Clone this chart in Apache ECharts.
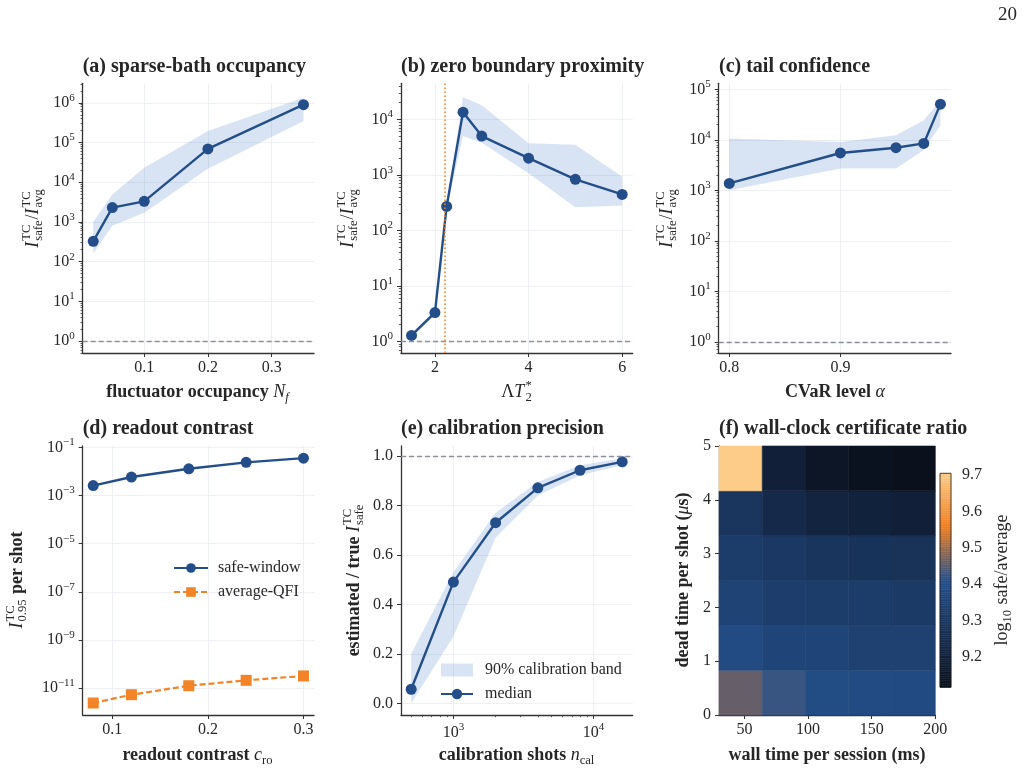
<!DOCTYPE html>
<html>
<head>
<meta charset="utf-8">
<script src="https://cdn.jsdelivr.net/npm/echarts@6.0.0/dist/echarts.min.js"></script>
<style>
  html, body { margin: 0; padding: 0; background: #fff; }
  #chart { width: 1023px; height: 772px; }
</style>
</head>
<body>
<div id="chart"></div>
<script>
// ---- data ----
// (a) sparse-bath occupancy
const occupancy = [0.02, 0.05, 0.1, 0.2, 0.35];
const occRatio = [325, 2300, 3300, 69000, 900000];
const occLow = [160, 800, 1700, 22000, 350000];
const occHigh = [1000, 4900, 23000, 196000, 1350000];
// (b) zero boundary proximity
const lambdaT2 = [1.5, 2.0, 2.25, 2.6, 3.0, 4.0, 5.0, 6.0];
const zbRatio = [1.28, 3.3, 270, 13500, 5000, 2000, 830, 445];
const zbLow = [1.2, 3.0, 240, 5000, 3800, 1070, 260, 280];
const zbHigh = [1.4, 3.6, 300, 25000, 18000, 3700, 3500, 930];
const zbBoundary = 2.2;
// (c) tail confidence
const cvarLevel = [0.8, 0.9, 0.95, 0.975, 0.99];
const tailRatio = [1370, 5500, 7000, 8500, 51000];
const tailLow = [1000, 2700, 2700, 6300, 19500];
const tailHigh = [10700, 9100, 12300, 24500, 61000];
// (d) readout contrast
const contrast = [0.08, 0.12, 0.18, 0.24, 0.3];
const safePerShot = [2.6e-3, 5.9e-3, 1.3e-2, 2.4e-2, 3.6e-2];
const avgPerShot = [2.4e-12, 5.3e-12, 1.25e-11, 2.1e-11, 3.2e-11];
// (e) calibration precision
const calShots = [500, 1000, 2000, 4000, 8000, 16000];
const calMedian = [0.057, 0.49, 0.73, 0.871, 0.942, 0.976];
const calLow = [0.0, 0.27, 0.67, 0.84, 0.922, 0.962];
const calHigh = [0.2, 0.53, 0.77, 0.895, 0.962, 0.99];
// (f) wall-clock certificate ratio, log10 safe/average; rows dead time low -> high
const wallExtent = [30, 200];
const deadExtent = [0, 5];
const heatRatio = [
  [9.458, 9.425, 9.39, 9.386, 9.385],
  [9.389, 9.357, 9.354, 9.343, 9.341],
  [9.35, 9.326, 9.32, 9.32, 9.31],
  [9.32, 9.302, 9.287, 9.276, 9.274],
  [9.292, 9.237, 9.21, 9.20, 9.19],
  [9.705, 9.19, 9.145, 9.124, 9.116]
];
// tick labels
const ticksXa = [0.1, 0.2, 0.3];
const ticksYa = [1, 10, 100, 1e3, 1e4, 1e5, 1e6];
const ticksXb = [2, 4, 6];
const ticksYb = [1, 10, 100, 1e3, 1e4];
const ticksXc = [0.8, 0.9];
const ticksYc = [1, 10, 100, 1e3, 1e4, 1e5];
const ticksXd = [0.1, 0.2, 0.3];
const ticksYd = [1e-11, 1e-9, 1e-7, 1e-5, 1e-3, 1e-1];
const ticksXe = [1e3, 1e4];
const ticksYe = [0, 0.2, 0.4, 0.6, 0.8, 1.0];
const ticksXf = [50, 100, 150, 200];
const ticksYf = [0, 1, 2, 3, 4, 5];
const ticksCbar = [9.2, 9.3, 9.4, 9.5, 9.6, 9.7];

// ---- style ----
const FONT = '"Liberation Serif", "Times New Roman", Times, serif';
const INK = '#262626';
const SPINE = '#333333';
const GRIDC = '#e8ebf0';
const BLUE = '#234e8a';
const ORANGE = '#f28326';
const BAND = 'rgba(60,120,195,0.2)';
const REF = '#8c909c';
const TICKF = 16;
const LABF = 18;

const cmapStops = [[0, [10, 16, 28]], [0.5, [36, 80, 140]], [0.75, [240, 127, 34]], [1, [253, 204, 136]]];
const allHeat = [].concat(...heatRatio);
const cMin = Math.min(...allHeat), cMax = Math.max(...allHeat);
function cmap(v) {
  let t = Math.max(0, Math.min(1, (v - cMin) / (cMax - cMin)));
  for (let i = 1; i < cmapStops.length; i++) {
    if (t <= cmapStops[i][0]) {
      const [t0, c0] = cmapStops[i - 1], [t1, c1] = cmapStops[i];
      const f = (t - t0) / (t1 - t0);
      return 'rgb(' + c0.map((c, k) => Math.round(c + f * (c1[k] - c))).join(',') + ')';
    }
  }
  return 'rgb(' + cmapStops[3][1].join(',') + ')';
}

function powLabel(v) {
  const e = Math.round(Math.log10(v));
  return '{m|10}{e|' + (e < 0 ? '\u2212' + (-e) : e) + '}';
}
const powRich = {
  m: { fontFamily: FONT, fontSize: TICKF, color: INK, lineHeight: 21 },
  e: { fontFamily: FONT, fontSize: 11, color: INK, verticalAlign: 'top', lineHeight: 12 }
};

function minorLog(lo, hi) {
  const out = [];
  for (let e = Math.floor(Math.log10(lo)); e <= Math.ceil(Math.log10(hi)); e++) {
    for (let m = 2; m <= 9; m++) {
      const v = m * Math.pow(10, e);
      if (v >= lo && v <= hi) out.push(v);
    }
  }
  return out;
}

function axis(grid, pos, type, min, max, ticks, fmt, extra) {
  const a = {
    gridIndex: grid, position: pos, type: type, min: min, max: max,
    axisLine: { show: true, onZero: false, lineStyle: { color: SPINE, width: 1.3 } },
    axisTick: { show: true, inside: false, length: 4, customValues: ticks, lineStyle: { color: SPINE, width: 1 } },
    axisLabel: { customValues: ticks, formatter: fmt, color: INK, fontFamily: FONT, fontSize: TICKF,
                 margin: pos === 'bottom' ? 7 : 8 },
    splitLine: { show: true, lineStyle: { color: GRIDC, width: 0.8 } },
    minorTick: { show: false }, minorSplitLine: { show: false }
  };
  if (type === 'log') {
    a.logBase = 10;
    a.axisLabel.formatter = powLabel;
    a.axisLabel.rich = powRich;
  }
  return Object.assign(a, extra || {});
}
function minorAxis(grid, pos, min, max) {
  return {
    gridIndex: grid, position: pos, type: 'log', logBase: 10, min: min, max: max,
    axisLine: { show: false, onZero: false }, axisLabel: { show: false }, splitLine: { show: false },
    axisTick: { show: true, length: 2.2, customValues: minorLog(min, max), lineStyle: { color: SPINE, width: 0.8 } }
  };
}
const fmt1 = v => v.toFixed(1);
const fmt0 = v => String(v);

const yA = [0.5, 3.1e6], yB = [0.617, 44700], yC = [0.6, 132000];

const xAxes = [
  axis(0, 'bottom', 'value', 0.0035, 0.3665, ticksXa, fmt1),
  axis(1, 'bottom', 'value', 1.275, 6.225, ticksXb, fmt0),
  axis(2, 'bottom', 'value', 0.7905, 0.9995, ticksXc, fmt1),
  axis(3, 'bottom', 'value', 0.069, 0.311, ticksXd, fmt1),
  axis(4, 'bottom', 'log', 423, 19000, ticksXe, null),
  axis(5, 'bottom', 'value', wallExtent[0], wallExtent[1], ticksXf, fmt0, { splitLine: { show: false } }),
  { gridIndex: 6, type: 'value', min: 0, max: 1, show: false },
  minorAxis(4, 'bottom', 423, 19000)
];
const yAxes = [
  axis(0, 'left', 'log', yA[0], yA[1], ticksYa, null),
  axis(1, 'left', 'log', yB[0], yB[1], ticksYb, null),
  axis(2, 'left', 'log', yC[0], yC[1], ticksYc, null),
  axis(3, 'left', 'log', 7.6e-13, 0.115, ticksYd, null),
  axis(4, 'left', 'value', -0.047, 1.04, ticksYe, fmt1),
  axis(5, 'left', 'value', deadExtent[0], deadExtent[1], ticksYf, fmt0, { splitLine: { show: false } }),
  axis(6, 'right', 'value', cMin, cMax, ticksCbar, fmt1,
       { splitLine: { show: false }, axisLine: { show: false },
         axisLabel: { customValues: ticksCbar, formatter: fmt1, color: INK, fontFamily: FONT, fontSize: TICKF, margin: 11 } }),
  minorAxis(0, 'left', yA[0], yA[1]),
  minorAxis(1, 'left', yB[0], yB[1]),
  minorAxis(2, 'left', yC[0], yC[1])
];

const grids = [
  { left: 82.7, top: 83.3, width: 231.3, height: 269.7 },
  { left: 401, top: 83.3, width: 231.7, height: 269.7 },
  { left: 718.7, top: 83.3, width: 232.3, height: 269.7 },
  { left: 82.7, top: 446, width: 231.3, height: 269 },
  { left: 401, top: 446, width: 231.7, height: 269 },
  { left: 719, top: 446, width: 216.3, height: 269 },
  { left: 940, top: 473.3, width: 11, height: 214 }
];

function refLine(items) {
  return { silent: true, symbol: ['none', 'none'], label: { show: false }, animation: false,
           lineStyle: { color: REF, type: [5, 3], width: 1.3 }, data: items };
}
function bandSeries(idx, xs, lo, hi, name) {
  return {
    type: 'custom', name: name, xAxisIndex: idx, yAxisIndex: idx, silent: true, z: 1,
    itemStyle: { color: BAND },
    data: xs.map((x, i) => [x, lo[i], hi[i]]),
    renderItem: function (params, api) {
      if (params.dataIndex !== 0) return null;
      const top = xs.map((x, i) => api.coord([x, hi[i]]));
      const bot = xs.map((x, i) => api.coord([x, lo[i]])).reverse();
      return { type: 'polygon', shape: { points: top.concat(bot) }, style: { fill: BAND } };
    }
  };
}
function lineSeries(idx, xs, ys, name, extra) {
  return Object.assign({
    type: 'line', name: name, xAxisIndex: idx, yAxisIndex: idx, z: 3,
    data: xs.map((x, i) => [x, ys[i]]),
    symbol: 'circle', symbolSize: 11, showSymbol: true,
    itemStyle: { color: BLUE }, lineStyle: { color: BLUE, width: 2.4 }
  }, extra || {});
}

const heatCells = [];
heatRatio.forEach((row, r) => row.forEach((v, c) => {
  const w = (wallExtent[1] - wallExtent[0]) / row.length;
  const h = (deadExtent[1] - deadExtent[0]) / heatRatio.length;
  heatCells.push([wallExtent[0] + c * w, wallExtent[0] + (c + 1) * w, deadExtent[0] + r * h, deadExtent[0] + (r + 1) * h, v]);
}));
const cbarSteps = [];
for (let i = 0; i < 120; i++) {
  cbarSteps.push([cMin + (cMax - cMin) * i / 120, cMin + (cMax - cMin) * (i + 1) / 120]);
}

const series = [
  bandSeries(0, occupancy, occLow, occHigh, 'bandA'),
  lineSeries(0, occupancy, occRatio, 'ratioA', { markLine: refLine([{ yAxis: 1 }]) }),
  bandSeries(1, lambdaT2, zbLow, zbHigh, 'bandB'),
  lineSeries(1, lambdaT2, zbRatio, 'ratioB', { markLine: refLine([
    { yAxis: 1 },
    { xAxis: zbBoundary, lineStyle: { color: ORANGE, type: [1.6, 2.4], width: 1.6 } }
  ]) }),
  bandSeries(2, cvarLevel, tailLow, tailHigh, 'bandC'),
  lineSeries(2, cvarLevel, tailRatio, 'ratioC', { markLine: refLine([{ yAxis: 1 }]) }),
  lineSeries(3, contrast, safePerShot, 'safe-window'),
  lineSeries(3, contrast, avgPerShot, 'average-QFI', {
    symbol: 'rect', symbolSize: 11, itemStyle: { color: ORANGE },
    lineStyle: { color: ORANGE, width: 2.2, type: [6, 3] }
  }),
  bandSeries(4, calShots, calLow, calHigh, '90% calibration band'),
  lineSeries(4, calShots, calMedian, 'median', { markLine: refLine([{ yAxis: 1 }]) }),
  {
    type: 'custom', name: 'heat', xAxisIndex: 5, yAxisIndex: 5, silent: true,
    data: heatCells,
    renderItem: function (params, api) {
      const p0 = api.coord([api.value(0), api.value(3)]);
      const p1 = api.coord([api.value(1), api.value(2)]);
      const col = cmap(api.value(4));
      return { type: 'rect', shape: { x: p0[0], y: p0[1], width: p1[0] - p0[0], height: p1[1] - p0[1] },
               style: { fill: col, stroke: col, lineWidth: 0.6 } };
    }
  },
  {
    type: 'custom', name: 'cbar', xAxisIndex: 6, yAxisIndex: 6, silent: true,
    data: cbarSteps,
    renderItem: function (params, api) {
      const p0 = api.coord([0, api.value(1)]);
      const p1 = api.coord([1, api.value(0)]);
      const col = cmap((api.value(0) + api.value(1)) / 2);
      return { type: 'rect', shape: { x: p0[0], y: p0[1], width: p1[0] - p0[0], height: p1[1] - p0[1] },
               style: { fill: col, stroke: col, lineWidth: 0.5 } };
    }
  }
];

// ---- text helpers (titles, math-style axis names) ----
const mctx = document.createElement('canvas').getContext('2d');
function tw(t, size, bold, italic) {
  mctx.font = (italic ? 'italic ' : '') + (bold ? 'bold ' : '') + size + 'px ' + FONT;
  return mctx.measureText(t).width;
}
function txt(x, y, t, size, bold, italic, align) {
  return { type: 'text', x: x, y: y, silent: true, style: {
    text: t, fontFamily: FONT, fontSize: size, fontWeight: bold ? 'bold' : 'normal',
    fontStyle: italic ? 'italic' : 'normal', fill: INK, textAlign: align || 'left', textVerticalAlign: 'middle' } };
}
// pieces: {t, s, b, i} or {sup, sub, supI, subI}
function mathText(cx, cy, pieces, rot, size) {
  const S = size || LABF, ss = Math.round(S * 0.7 * 10) / 10;
  let x = 0;
  const kids = [];
  pieces.forEach(p => {
    if (p.sup !== undefined || p.sub !== undefined) {
      let w = 0;
      if (p.sup !== undefined) { kids.push(txt(x, -0.36 * S, p.sup, ss, false, p.supI)); w = Math.max(w, tw(p.sup, ss, false, p.supI)); }
      if (p.sub !== undefined) { kids.push(txt(x, 0.3 * S, p.sub, ss, false, p.subI)); w = Math.max(w, tw(p.sub, ss, false, p.subI)); }
      x += w + 1;
    } else {
      kids.push(txt(x, 0, p.t, S, p.b, p.i));
      x += tw(p.t, S, p.b, p.i) + (p.gap || 0);
    }
  });
  kids.forEach(k => { k.x -= x / 2; });
  return { type: 'group', x: cx, y: cy, rotation: rot ? Math.PI / 2 : 0, children: kids };
}
const ratioLabel = [
  { t: 'I', i: true, gap: 1 }, { sup: 'TC', sub: 'safe' },
  { t: '/', gap: 0 }, { t: 'I', i: true, gap: 1 }, { sup: 'TC', sub: 'avg' }
];

const TITLE = 20;
const graphics = [
  txt(1017, 15, '20', 19, false, false, 'right'),
  txt(82.7, 67, '(a) sparse-bath occupancy', TITLE, true),
  txt(401, 67, '(b) zero boundary proximity', TITLE, true),
  txt(719, 67, '(c) tail confidence', TITLE, true),
  txt(82.7, 428.5, '(d) readout contrast', TITLE, true),
  txt(401, 428.5, '(e) calibration precision', TITLE, true),
  txt(719, 428.5, '(f) wall-clock certificate ratio', TITLE, true),
  mathText(33, 218, ratioLabel, true),
  mathText(348, 218, ratioLabel, true),
  mathText(667, 218, ratioLabel, true),
  mathText(198, 392, [{ t: 'fluctuator occupancy ', b: true }, { t: 'N', i: true }, { sub: 'f', subI: true }]),
  mathText(517, 392, [{ t: '\u039b' }, { t: 'T', i: true, gap: 1 }, { sup: '*', sub: '2' }]),
  mathText(835, 392, [{ t: 'CVaR level ', b: true }, { t: '\u03b1', i: true }]),
  mathText(17, 580, [{ t: 'I', i: true, gap: 1 }, { sup: 'TC', sub: '0.95' }, { t: ' per shot', b: true }], true),
  mathText(198, 755, [{ t: 'readout contrast ', b: true }, { t: 'c', i: true }, { sub: 'ro' }]),
  mathText(354, 580, [{ t: 'estimated / true ', b: true }, { t: 'I', i: true, gap: 1 }, { sup: 'TC', sub: 'safe' }], true),
  mathText(517, 755, [{ t: 'calibration shots ', b: true }, { t: 'n', i: true }, { sub: 'cal' }]),
  mathText(683, 580, [{ t: 'dead time per shot (', b: true }, { t: '\u03bc', i: true }, { t: 's)', b: true }], true),
  mathText(827, 755, [{ t: 'wall time per session (ms)', b: true }]),
  mathText(1002, 580, [{ t: 'log' }, { sub: '10' }, { t: ' safe/average' }], true),
  { type: 'rect', silent: true, z: 100, shape: { x: 940, y: 473.3, width: 11, height: 214 },
    style: { fill: 'none', stroke: '#1a1a1a', lineWidth: 0.8 } }
];

const chart = echarts.init(document.getElementById('chart'), null, { renderer: 'canvas' });
chart.setOption({
  animation: false,
  backgroundColor: '#ffffff',
  textStyle: { fontFamily: FONT },
  grid: grids,
  xAxis: xAxes,
  yAxis: yAxes,
  legend: [
    {
      left: 173, top: 560, padding: 0, orient: 'vertical', itemWidth: 34, itemHeight: 12, itemGap: 8,
      textStyle: { fontFamily: FONT, fontSize: 16, color: INK, padding: [0, 0, 0, 5] },
      data: ['safe-window', 'average-QFI']
    },
    {
      left: 440, top: 662, padding: 0, orient: 'vertical', itemWidth: 32, itemHeight: 13, itemGap: 8,
      textStyle: { fontFamily: FONT, fontSize: 16, color: INK, padding: [0, 0, 0, 7] },
      data: [{ name: '90% calibration band', icon: 'rect', itemStyle: { color: BAND } }, { name: 'median' }]
    }
  ],
  series: series,
  graphic: graphics
});
</script>
</body>
</html>
